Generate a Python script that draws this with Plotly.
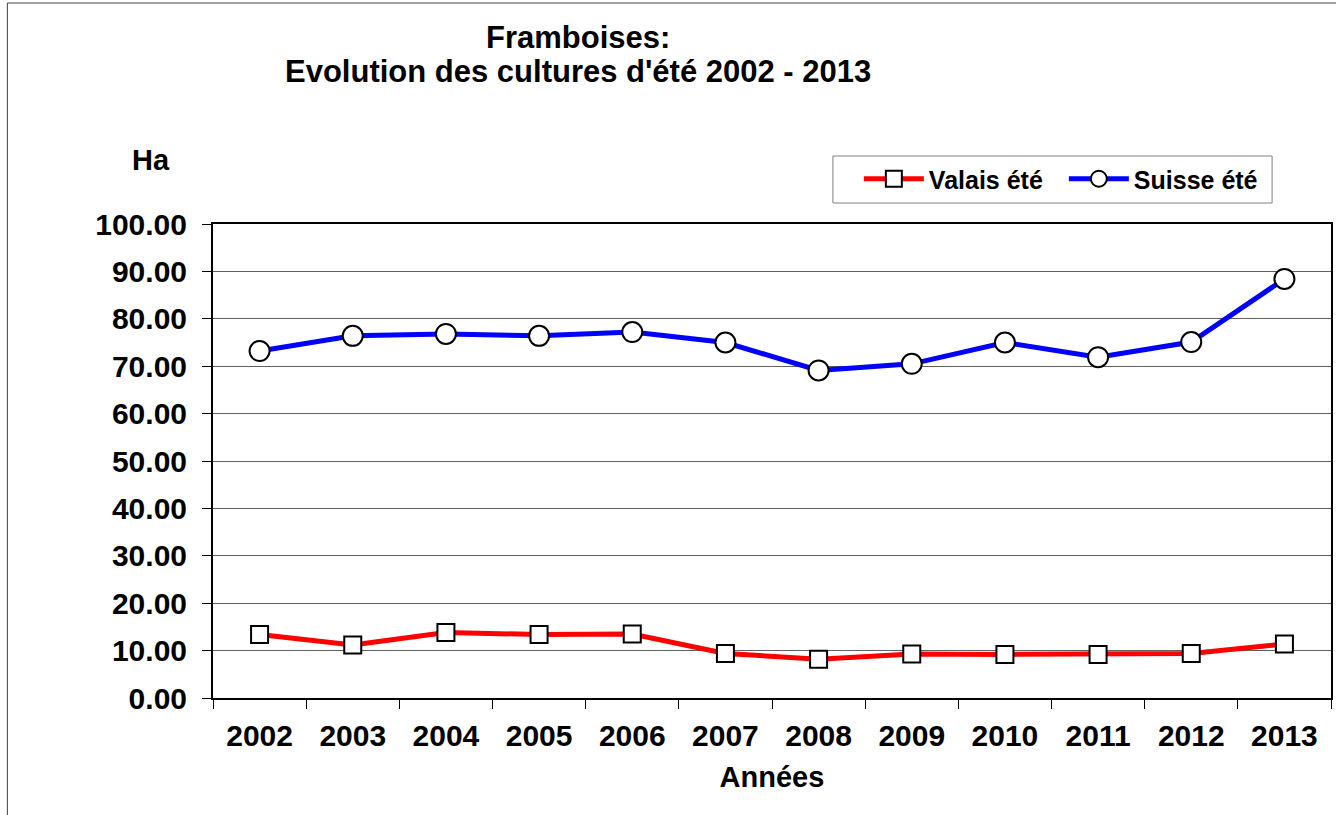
import plotly.graph_objects as go

years = ["2002", "2003", "2004", "2005", "2006", "2007", "2008", "2009", "2010", "2011", "2012", "2013"]
valais_ete = [13.4, 11.2, 13.8, 13.4, 13.5, 9.4, 8.2, 9.3, 9.2, 9.2, 9.4, 11.4]
suisse_ete = [73.2, 76.4, 76.8, 76.4, 77.2, 75.0, 69.1, 70.5, 75.0, 71.9, 75.1, 88.4]
y_ticks = [0, 10, 20, 30, 40, 50, 60, 70, 80, 90, 100]
title_lines = ["Framboises:", "Evolution des cultures d'été 2002 - 2013"]

W, H = 1336, 815
L, R, T, B = 213, 1333, 224, 698

def px_x(p):
    return (p - L) / (R - L)

def px_y(p):
    return (B - p) / (B - T)

font = "Liberation Sans, Arial, sans-serif"

fig = go.Figure()
fig.add_trace(go.Scatter(
    x=years, y=valais_ete, name="Valais été", mode="lines+markers",
    line=dict(color="#ff0000", width=5),
    marker=dict(symbol="square", size=17, color="white", line=dict(color="black", width=2)),
))
fig.add_trace(go.Scatter(
    x=years, y=suisse_ete, name="Suisse été", mode="lines+markers",
    line=dict(color="#0000ff", width=5),
    marker=dict(symbol="circle", size=20, color="white", line=dict(color="black", width=2)),
))

fig.update_layout(
    width=W, height=H,
    margin=dict(l=L, r=W - R, t=T, b=H - B, pad=0),
    paper_bgcolor="white", plot_bgcolor="white",
    font=dict(family=font, color="black"),
    showlegend=True,
    legend=dict(
        orientation="h", x=px_x(860), y=px_y(156), xanchor="left", yanchor="top",
        borderwidth=0, bgcolor="rgba(0,0,0,0)",
        font=dict(size=25, family=font, color="black", weight="bold"),
        itemwidth=60, entrywidth=130, entrywidthmode="pixels", traceorder="normal",
    ),
)

fig.update_xaxes(
    type="category", range=[-0.5, 11.5],
    tickson="boundaries", ticks="outside", ticklen=9, tickcolor="black", tickwidth=1,
    showline=True, linecolor="black", linewidth=2, mirror=True,
    showgrid=False, zeroline=False,
    tickfont=dict(size=30, family=font, color="black", weight="bold"),
    ticklabelstandoff=10,
    title=dict(text="<b>Années</b>", font=dict(size=29, family=font, color="black"), standoff=16),
)
fig.update_yaxes(
    range=[0, 100], tickvals=y_ticks, tickformat=".2f",
    ticks="outside", ticklen=9, tickcolor="black", tickwidth=1,
    showline=True, linecolor="black", linewidth=2, mirror=True,
    showgrid=True, gridcolor="#606060", gridwidth=1, zeroline=False,
    tickfont=dict(size=30, family=font, color="black", weight="bold"),
    ticklabelstandoff=9,
)

for txt, cy in zip(title_lines, [37, 72]):
    fig.add_annotation(
        text="<b>" + txt + "</b>",
        xref="paper", yref="paper", x=px_x(579), y=px_y(cy),
        xanchor="center", yanchor="middle", showarrow=False,
        font=dict(size=31, family=font, color="black"),
    )

fig.add_annotation(
    text="<b>Ha</b>", xref="paper", yref="paper", x=px_x(151), y=px_y(160),
    showarrow=False, font=dict(size=29, family=font, color="black"),
    xanchor="center", yanchor="middle",
)

# legend frame
fig.add_shape(
    type="rect", xref="paper", yref="paper",
    x0=px_x(834), x1=px_x(1274), y0=px_y(203), y1=px_y(156),
    line=dict(color="#808080", width=1), fillcolor="white", layer="below",
)

# outer chart frame (extends past the right and bottom edges)
fig.add_shape(
    type="rect", xref="paper", yref="paper",
    x0=px_x(7), x1=px_x(1400), y0=px_y(900), y1=px_y(3),
    line=dict(color="#404040", width=1), fillcolor="rgba(0,0,0,0)", layer="below",
)

fig.write_html("out.html", config={"displayModeBar": False},
               post_script="document.body.style.margin='0';")
